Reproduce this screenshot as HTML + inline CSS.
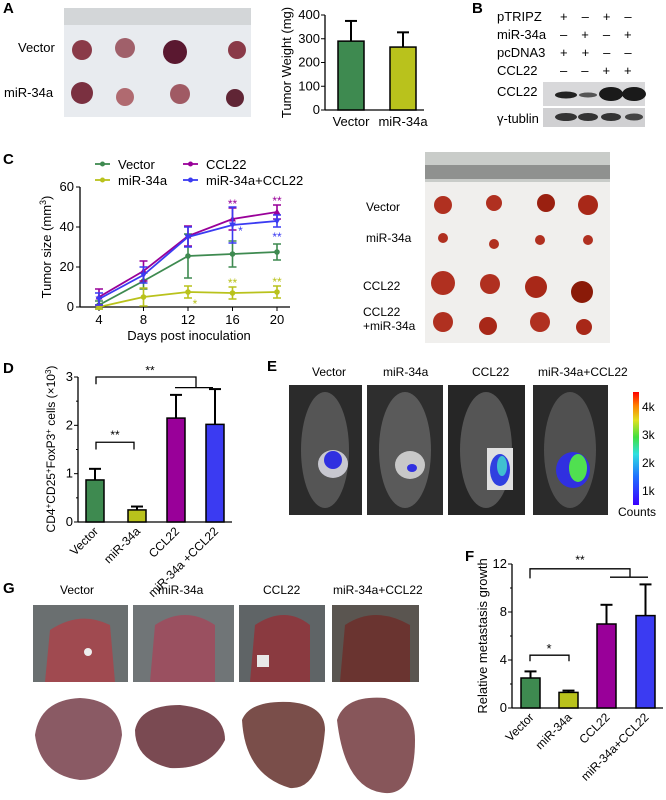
<!DOCTYPE html>
<html><head><meta charset="utf-8">
<style>
body{margin:0;background:#fff;width:666px;height:800px;overflow:hidden;position:relative;font-family:"Liberation Sans",sans-serif;}
.abs{position:absolute}
.lbl{position:absolute;font-weight:bold;font-size:15px}
.t{position:absolute;font-size:12px;white-space:nowrap}
svg text{font-family:"Liberation Sans",sans-serif}
</style></head><body>
<div class="lbl" style="left:3px;top:0">A</div>
<div class="lbl" style="left:472px;top:0">B</div>
<div class="lbl" style="left:3px;top:151px">C</div>
<div class="lbl" style="left:3px;top:360px">D</div>
<div class="lbl" style="left:267px;top:358px">E</div>
<div class="lbl" style="left:465px;top:548px">F</div>
<div class="lbl" style="left:3px;top:580px">G</div>

<svg class="abs" style="left:0;top:0" width="666" height="800" id="root">
<g>
<rect x="64" y="8" width="187" height="109" fill="#e8ebef"/>
<rect x="64" y="8" width="187" height="17" fill="#d3d6d8"/>
<circle cx="82" cy="50" r="10" fill="#8a3a48"/><circle cx="125" cy="48" r="10" fill="#a0606a"/>
<circle cx="175" cy="52" r="12" fill="#5a1830"/><circle cx="237" cy="50" r="9" fill="#8a3a48"/>
<circle cx="82" cy="93" r="11" fill="#7a3040"/><circle cx="125" cy="97" r="9" fill="#b06a70"/>
<circle cx="180" cy="94" r="10" fill="#a05a64"/><circle cx="235" cy="98" r="9" fill="#602535"/>
</g>
<g>
<rect x="543" y="82" width="102" height="24" fill="#d8d8da"/>
<ellipse cx="566" cy="95" rx="11" ry="3.5" fill="#222"/>
<ellipse cx="588" cy="95" rx="9" ry="2.5" fill="#555"/>
<ellipse cx="611" cy="94" rx="12" ry="7" fill="#1a1a1a"/>
<ellipse cx="634" cy="94" rx="12" ry="7" fill="#1a1a1a"/>
<rect x="543" y="108" width="102" height="19" fill="#d0d0d2"/>
<ellipse cx="566" cy="117" rx="11" ry="4" fill="#333"/><ellipse cx="588" cy="117" rx="10" ry="4" fill="#333"/>
<ellipse cx="611" cy="117" rx="10" ry="4" fill="#333"/><ellipse cx="634" cy="117" rx="9" ry="3.5" fill="#444"/>
</g>
<g>
<rect x="425" y="152" width="185" height="191" fill="#f0efed"/>
<rect x="425" y="152" width="185" height="30" fill="#c9ccc9"/>
<rect x="425" y="165" width="185" height="14" fill="#555" opacity="0.5"/>
<circle cx="443" cy="205" r="9" fill="#b03020"/><circle cx="494" cy="203" r="8" fill="#b03020"/><circle cx="546" cy="203" r="9" fill="#9a2010"/><circle cx="588" cy="205" r="10" fill="#a82818"/>
<circle cx="443" cy="238" r="5" fill="#b03020"/><circle cx="494" cy="244" r="5" fill="#b03020"/><circle cx="540" cy="240" r="5" fill="#b03020"/><circle cx="588" cy="240" r="5" fill="#b03020"/>
<circle cx="443" cy="283" r="12" fill="#b03020"/><circle cx="490" cy="284" r="10" fill="#b03020"/><circle cx="536" cy="287" r="11" fill="#a82818"/><circle cx="582" cy="292" r="11" fill="#8a1a08"/>
<circle cx="443" cy="322" r="10" fill="#b03020"/><circle cx="488" cy="326" r="9" fill="#a82818"/><circle cx="540" cy="322" r="10" fill="#b03020"/><circle cx="584" cy="327" r="8" fill="#a82818"/>
</g>
<g>
<rect x="289" y="385" width="73" height="130" fill="#2b2b2b"/>
<rect x="367" y="385" width="76" height="130" fill="#2e2e2e"/>
<rect x="448" y="385" width="77" height="130" fill="#262626"/>
<rect x="533" y="385" width="75" height="130" fill="#2b2b2b"/>
<ellipse cx="325" cy="450" rx="24" ry="58" fill="#555"/><ellipse cx="405" cy="450" rx="26" ry="58" fill="#5a5a5a"/>
<ellipse cx="486" cy="450" rx="26" ry="58" fill="#555"/><ellipse cx="570" cy="450" rx="26" ry="58" fill="#505050"/>
<ellipse cx="333" cy="464" rx="15" ry="14" fill="#c8c8d0"/><ellipse cx="333" cy="460" rx="9" ry="9" fill="#3030e0"/>
<ellipse cx="410" cy="465" rx="15" ry="14" fill="#c8c8c8"/><ellipse cx="412" cy="468" rx="5" ry="4" fill="#3030e0"/>
<rect x="487" y="448" width="26" height="42" fill="#e0e0e0"/><ellipse cx="500" cy="470" rx="10" ry="16" fill="#3040e0"/><ellipse cx="502" cy="466" rx="5" ry="10" fill="#40c0d0"/>
<ellipse cx="573" cy="470" rx="17" ry="18" fill="#3030e0"/><ellipse cx="578" cy="468" rx="9" ry="14" fill="#50e050"/>
</g>
<defs><linearGradient id="cb" x1="0" y1="1" x2="0" y2="0">
<stop offset="0" stop-color="#3a00ff"/><stop offset="0.25" stop-color="#2070ff"/><stop offset="0.45" stop-color="#30e0e0"/><stop offset="0.6" stop-color="#40e040"/><stop offset="0.75" stop-color="#e0e020"/><stop offset="0.88" stop-color="#ff8000"/><stop offset="1" stop-color="#ff0000"/></linearGradient></defs>
<rect x="633" y="392" width="6" height="113" fill="url(#cb)"/>
<g>
<rect x="33" y="605" width="95" height="77" fill="#6a6f70"/><path d="M50 630 Q80 610 110 625 L115 682 L45 682Z" fill="#a04a50"/><circle cx="88" cy="652" r="4" fill="#eee"/>
<rect x="133" y="605" width="101" height="77" fill="#707577"/><path d="M155 625 Q185 605 215 625 L215 682 L150 682Z" fill="#9a5060"/>
<rect x="239" y="605" width="86" height="77" fill="#5f6466"/><path d="M255 625 Q285 605 310 625 L310 682 L250 682Z" fill="#8a3a40"/><rect x="257" y="655" width="12" height="12" fill="#e8e8e8"/>
<rect x="332" y="605" width="87" height="77" fill="#5a5550"/><path d="M345 625 Q375 605 410 625 L410 682 L340 682Z" fill="#6a3430"/>
<path d="M35 735 Q40 700 80 698 Q120 700 122 735 Q115 780 80 780 Q40 775 35 735Z" fill="#8a5a64"/>
<path d="M135 730 Q140 705 180 705 Q225 710 225 740 Q210 770 170 768 Q135 760 135 730Z" fill="#7a4a52"/>
<path d="M242 720 Q250 700 290 702 Q325 705 325 730 Q320 790 290 788 Q245 775 242 720Z" fill="#7a4e4a"/>
<path d="M337 720 Q345 695 385 698 Q415 705 415 740 Q415 795 385 793 Q345 790 337 720Z" fill="#87565a"/>
</g>
</svg>

<div class="t" style="left:18px;top:40px;font-size:13px">Vector</div>
<div class="t" style="left:4px;top:85px;font-size:13px">miR-34a</div>
<div class="t" style="left:497px;top:8px;font-size:13px;line-height:18px">pTRIPZ<br>miR-34a<br>pcDNA3<br>CCL22</div>
<div class="t" style="left:560px;top:8px;font-size:13px;line-height:18px;letter-spacing:14px">+–+–<br>–+–+<br>++––<br>––++</div>
<div class="t" style="left:497px;top:84px;font-size:13px">CCL22</div>
<div class="t" style="left:497px;top:111px;font-size:13px">γ-tublin</div>
<div class="t" style="left:366px;top:200px">Vector</div>
<div class="t" style="left:366px;top:231px">miR-34a</div>
<div class="t" style="left:363px;top:279px">CCL22</div>
<div class="t" style="left:363px;top:305px;line-height:14px">CCL22<br>+miR-34a</div>
<div class="t" style="left:312px;top:365px">Vector</div>
<div class="t" style="left:383px;top:365px">miR-34a</div>
<div class="t" style="left:472px;top:365px">CCL22</div>
<div class="t" style="left:538px;top:365px">miR-34a+CCL22</div>
<div class="t" style="left:642px;top:393px;font-size:12px;line-height:28px">4k<br>3k<br>2k<br>1k</div>
<div class="t" style="left:618px;top:505px">Counts</div>
<div class="t" style="left:60px;top:583px">Vector</div>
<div class="t" style="left:158px;top:583px">miR-34a</div>
<div class="t" style="left:263px;top:583px">CCL22</div>
<div class="t" style="left:333px;top:583px">miR-34a+CCL22</div>

<svg class="abs" style="left:0;top:0" width="666" height="800" id="charts"></svg>

<script>
// Panel A data
const aCats=["Vector","miR-34a"];
const aVals=[290,265];
const aErr=[85,62];
const aTicks=[0,100,200,300,400];
// Panel C data
const cDays=[4,8,12,16,20];
const cTicksY=[0,20,40,60];
const cSeriesNames=["Vector","miR-34a","CCL22","miR-34a+CCL22"];
const cVector=[1,13,25.5,26.5,27.5];
const cVectorErr=[2,4,11,6.5,4];
const cMir=[0,5,7.5,7,7.5];
const cMirErr=[1,4.5,3,3,3];
const cCcl=[5,18,35.5,44,47.5];
const cCclErr=[4,5,5,5.5,3.5];
const cCombo=[4,16,35,41,43];
const cComboErr=[3,4,5,9,3];
// Panel D data
const dCats=["Vector","miR-34a","CCL22","miR-34a +CCL22"];
const dVals=[0.87,0.25,2.15,2.02];
const dErr=[0.23,0.07,0.48,0.73];
const dTicks=[0,1,2,3];
// Panel F data
const fCats=["Vector","miR-34a","CCL22","miR-34a+CCL22"];
const fVals=[2.5,1.3,7,7.7];
const fErr=[0.55,0.15,1.6,2.6];
const fTicks=[0,4,8,12];

const colors=["#3e8a50","#b9c21c","#990099","#3b3bf2"];
const svg=document.getElementById('charts');
const NS="http://www.w3.org/2000/svg";
function mk(tag,attrs,parent){const e=document.createElementNS(NS,tag);for(const k in attrs)e.setAttribute(k,attrs[k]);(parent||svg).appendChild(e);return e;}
function txt(x,y,s,attrs,parent){const e=mk('text',Object.assign({x:x,y:y,'font-size':12},attrs||{}),parent);e.textContent=s;return e;}

function barChart(name,vals,errs,cats,ticks,x0,yTop,yBot,vmax,bx,bw,ylab,rot,minor){
  const g=mk('g',{});
  
  
  const y=v=>yBot-(v/vmax)*(yBot-yTop);
  const right=bx[bx.length-1]+bw+8;
  mk('line',{x1:x0,y1:yTop,x2:x0,y2:yBot,stroke:'#000','stroke-width':1.3},g);
  mk('line',{x1:x0,y1:yBot,x2:right,y2:yBot,stroke:'#000','stroke-width':1.3},g);
  ticks.forEach(t=>{mk('line',{x1:x0-4,y1:y(t),x2:x0,y2:y(t),stroke:'#000'},g);
    const tl=txt(x0-5,y(t)+4,String(t),{'text-anchor':'end','font-size':13},g);
    
    });
  if(minor){for(let i=0;i<ticks.length-1;i++){const m=(ticks[i]+ticks[i+1])/2;mk('line',{x1:x0-2,y1:y(m),x2:x0,y2:y(m),stroke:'#000'},g);}}
  vals.forEach((v,i)=>{
    mk('line',{x1:bx[i]+bw/2,y1:y(v),x2:bx[i]+bw/2,y2:y(v+errs[i]),stroke:'#000','stroke-width':2},g);
    mk('line',{x1:bx[i]+bw/2-6,y1:y(v+errs[i]),x2:bx[i]+bw/2+6,y2:y(v+errs[i]),stroke:'#000','stroke-width':2},g);
    const r=mk('rect',{x:bx[i],y:y(v),width:bw,height:yBot-y(v),fill:colors[i],stroke:'#000','stroke-width':1.5},g);
    
    
    const cx=bx[i]+bw/2;
    let lab;
    if(rot){lab=txt(cx+4,yBot+10,cats[i],{'text-anchor':'end','font-size':12,transform:`rotate(-45 ${cx+4} ${yBot+10})`},g);}
    else{lab=txt(cx,yBot+16,cats[i],{'text-anchor':'middle','font-size':13},g);}
    
    
  });
  const yl=txt(0,0,ylab.t,{'text-anchor':'middle','font-size':ylab.fs||13,transform:`translate(${ylab.x},${(yTop+yBot)/2}) rotate(-90)`},g);
  
  
  return {g,y};
}
barChart('tumor-weight-chart',aVals,aErr,aCats,aTicks,325,15,110,400,[338,390],26,{t:'Tumor Weight (mg)',x:291},false,false);
const D=barChart('treg-count-chart',dVals,dErr,dCats,dTicks,78,377,522,3,[86,128,167,206],18,{t:'',x:52},true,true);
(function(){const t=txt(0,0,'',{'text-anchor':'middle','font-size':12,transform:'translate(55,449) rotate(-90)'});
 t.innerHTML='CD4<tspan baseline-shift="super" font-size="8">+</tspan>CD25<tspan baseline-shift="super" font-size="8">+</tspan>FoxP3<tspan baseline-shift="super" font-size="8">+</tspan> cells (×10<tspan baseline-shift="super" font-size="8">3</tspan>)';
 
 
 const y=D.y;
 mk('path',{d:`M96 ${y(2.85)} V${y(3.0)} H196 V${y(2.78)} M175 ${y(2.78)} H213`,stroke:'#000',fill:'none','stroke-width':1.3});
 mk('path',{d:`M96 ${y(1.5)} V${y(1.65)} H134 V${y(1.5)}`,stroke:'#000',fill:'none','stroke-width':1.3});
 txt(150,y(3.05),'**',{'text-anchor':'middle','font-size':12});
 txt(115,y(1.72),'**',{'text-anchor':'middle','font-size':12});
})();
const F=barChart('metastasis-growth-chart',fVals,fErr,fCats,fTicks,512,564,708,12,[521,559,597,636],19,{t:'Relative metastasis growth',x:487},true,true);
(function(){const y=F.y;
 mk('path',{d:`M530 ${y(10.8)} V${y(11.6)} H630 V${y(10.9)} M610 ${y(10.9)} H648`,stroke:'#000',fill:'none','stroke-width':1.3});
 mk('path',{d:`M530 ${y(3.9)} V${y(4.4)} H569 V${y(3.9)}`,stroke:'#000',fill:'none','stroke-width':1.3});
 txt(580,y(12),'**',{'text-anchor':'middle','font-size':12});
 txt(549,y(4.6),'*',{'text-anchor':'middle','font-size':13});
})();
(function(){
 const g=mk('g',{});
 
 
 const x=d=>99+(d-4)/16*(277-99);
 const y=v=>307-v/60*120;
 mk('line',{x1:80,y1:187,x2:80,y2:307,stroke:'#000','stroke-width':1.3},g);
 mk('line',{x1:80,y1:307,x2:290,y2:307,stroke:'#000','stroke-width':1.3},g);
 cTicksY.forEach(t=>{mk('line',{x1:76,y1:y(t),x2:80,y2:y(t),stroke:'#000'},g);txt(74,y(t)+4,String(t),{'text-anchor':'end','font-size':13},g);});
 cDays.forEach(d=>{mk('line',{x1:x(d),y1:307,x2:x(d),y2:311,stroke:'#000'},g);txt(x(d),324,String(d),{'text-anchor':'middle','font-size':13},g);});
 txt(189,340,'Days post inoculation',{'text-anchor':'middle','font-size':13},g);
 const yl=txt(0,0,'',{'text-anchor':'middle','font-size':13,transform:'translate(51,247) rotate(-90)'},g);
 yl.innerHTML='Tumor size (mm<tspan baseline-shift="super" font-size="9">3</tspan>)';
 const series=[[cVector,cVectorErr],[cMir,cMirErr],[cCcl,cCclErr],[cCombo,cComboErr]];
 series.forEach((s,si)=>{
  const c=colors[si];
  const pts=s[0].map((v,i)=>x(cDays[i])+','+y(v)).join(' ');
  s[0].forEach((v,i)=>{const xx=x(cDays[i]);
   mk('path',{d:`M${xx} ${y(v-s[1][i])}V${y(v+s[1][i])}M${xx-4} ${y(v-s[1][i])}H${xx+4}M${xx-4} ${y(v+s[1][i])}H${xx+4}`,stroke:c,'stroke-width':1.6,fill:'none'},g);});
  const pl=mk('polyline',{points:pts,fill:'none',stroke:c,'stroke-width':1.8},g);
  
  
  s[0].forEach((v,i)=>{const xx=x(cDays[i]),yy=y(v);
   if(si<2)mk('circle',{cx:xx,cy:yy,r:2.8,fill:c},g);
   else if(si==2)mk('path',{d:`M${xx} ${yy-3.5}L${xx+3.5} ${yy+2.5}L${xx-3.5} ${yy+2.5}Z`,fill:c},g);
   else mk('path',{d:`M${xx} ${yy+3.5}L${xx+3.5} ${yy-2.5}L${xx-3.5} ${yy-2.5}Z`,fill:c},g);});
 });
 [[16,cCcl[3]+cCclErr[3]+2,'**',colors[2]],[20,cCcl[4]+cCclErr[4]+2,'**',colors[2]],[20,cCombo[4]-cComboErr[4]-5,'**',colors[3]],[16,cCombo[3]-3,'*',colors[3]],
  [16,cMir[3]+cMirErr[3]+2,'**',colors[1]],[20,cMir[4]+cMirErr[4]+2,'**',colors[1]],[12,cMir[2]-6,'*',colors[1]]].forEach((a,i)=>{
  const dx=(a[2]=='*'&&i!=6)?8:(i==6?7:0);
  txt(x(a[0])+dx,y(a[1])+4,a[2],{'text-anchor':'middle','font-size':12,fill:a[3]},g);});
 const lg=mk('g',{});
 
 
 [[95,164],[95,180],[183,164],[183,180]].forEach((p,i)=>{
  mk('line',{x1:p[0],y1:p[1],x2:p[0]+15,y2:p[1],stroke:colors[i],'stroke-width':1.8},lg);
  mk('circle',{cx:p[0]+7.5,cy:p[1],r:2.5,fill:colors[i]},lg);
  txt(p[0]+23,p[1]+5,cSeriesNames[i],{'font-size':13},lg);});
})();
</script>
</body></html>
